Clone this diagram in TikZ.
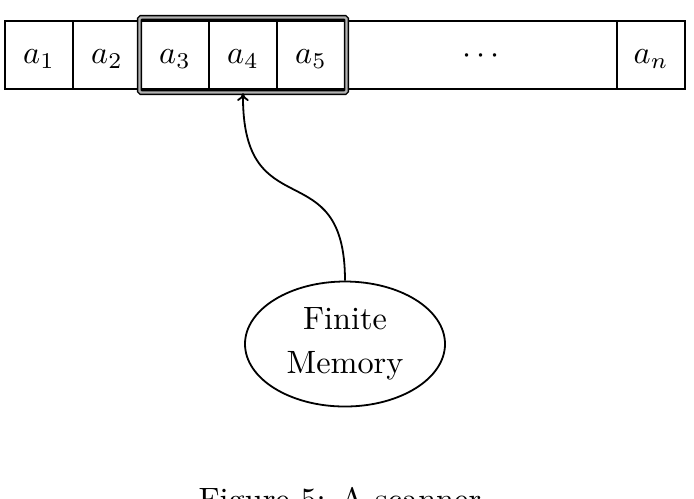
\documentclass[tikz,border=0pt]{standalone}
\usepackage{fontspec}
\usetikzlibrary{shapes.geometric,fit,arrows.meta}
\newdimen\px
\px=0.3096pt
\begin{document}
\begin{tikzpicture}[x=\px,y=-\px,
  font=\fontsize{10}{13.6}\selectfont,
  cell/.style={draw, line width=1.8\px, rectangle, inner sep=0pt, outer sep=0pt,
    minimum height=68\px, text height=6.2pt, text depth=1pt},
  sq/.style={cell, minimum width=68\px},
  wide/.style={cell, minimum width=272\px},
  window/.style={draw, line width=1.4\px, double=gray!60, double distance=2.4\px,
    rounded corners=1.5\px, inner xsep=1.5\px, inner ysep=3.5\px},
  memory/.style={draw, ellipse, line width=1.8\px, inner sep=0pt,
    minimum width=200\px, minimum height=125\px, align=center},
  link/.style={-{To[length=2.4pt,width=3.6pt]}, line width=1.8\px}]
\useasboundingbox (0,0) rectangle (694,498);
\node[sq] (c1) at (39,55) {$a_1$};
\node[sq] (c2) at (107,55) {$a_2$};
\node[sq] (c3) at (175,55) {$a_3$};
\node[sq] (c4) at (243,55) {$a_4$};
\node[sq] (c5) at (311,55) {$a_5$};
\node[wide] (cd) at (481,55) {$\cdots$};
\node[sq] (cn) at (651,55) {$a_n$};
\node[window, fit=(c3)(c5)] (win) {};
\node[memory] (mem) at (345,344) {Finite\\Memory};
\coordinate (tip) at (c4.south |- win.south);
\draw[link] (mem.north) .. controls (345,150) and (242,230) .. (tip);
\node[anchor=base west, inner sep=0pt] (cap) at (198,510) {Figure 5: A scanner};
\end{tikzpicture}
\end{document}
